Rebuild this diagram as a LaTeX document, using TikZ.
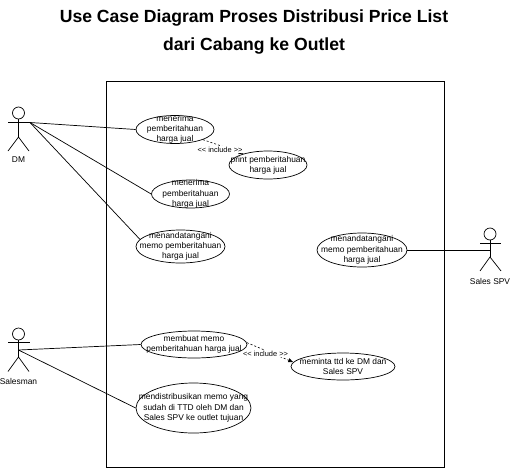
\documentclass[tikz,border=0pt]{standalone}
\usepackage{fontspec}
\setmainfont{Liberation Sans}
\usetikzlibrary{shapes.geometric,arrows.meta}

\tikzset{
	usecase/.style={draw,ellipse,inner sep=0pt,line width=0.7pt},
	uctext/.style={align=center,inner sep=0pt,font=\fontsize{8.4}{10.3}\selectfont},
	actorline/.style={line width=0.7pt},
	assoc/.style={line width=0.7pt},
	incl/.style={dashed,line width=0.6pt,dash pattern=on 2pt off 2pt,-{Latex[length=5pt,width=4.5pt]}},
	incltext/.style={fill=white,inner sep=0.5pt,font=\fontsize{7.4}{9}\selectfont},
	actortext/.style={inner sep=0pt,font=\fontsize{8.4}{10}\selectfont},
	titletext/.style={align=center,inner sep=0pt,font=\fontsize{17.6}{28}\selectfont\bfseries}
}

\begin{document}
\begin{tikzpicture}[x=1pt,y=-1pt]

	\useasboundingbox (0,0) rectangle (524,474);

	% Judul
	\node[titletext] (judul) at (254,31.5) {Use Case Diagram Proses Distribusi Price List\\dari Cabang ke Outlet};

	% Batas sistem
	\draw[line width=0.9pt] (106,81) rectangle (444,467);

	% Aktor DM
	\node[draw,circle,minimum size=12pt,inner sep=0pt,actorline] (dmhead) at (18.5,113) {};
	\coordinate (dmhand) at (30,122.5);
	\coordinate (dmhip) at (18.5,137);
	\draw[actorline] (dmhead) -- (dmhip);
	\draw[actorline] (8,122.5) -- (dmhand);
	\draw[actorline] (8,151) -- (dmhip) -- (29,151);
	\node[actortext] (dm) at (18.5,160) {DM};

	% Aktor Salesman
	\node[draw,circle,minimum size=12pt,inner sep=0pt,actorline] (slshead) at (18.5,334) {};
	\coordinate (slsbody) at (18.5,350);
	\coordinate (slship) at (18.5,357);
	\draw[actorline] (slshead) -- (slship);
	\draw[actorline] (8,342.5) -- (30,342.5);
	\draw[actorline] (8,371.5) -- (slship) -- (29,371.5);
	\node[actortext] (salesman) at (18.5,381) {Salesman};

	% Aktor Sales SPV
	\node[draw,circle,minimum size=12pt,inner sep=0pt,actorline] (spvhead) at (490,234) {};
	\coordinate (spvbody) at (490,250);
	\coordinate (spvhip) at (490,257);
	\draw[actorline] (spvhead) -- (spvhip);
	\draw[actorline] (480,243) -- (501,243);
	\draw[actorline] (480,271) -- (spvhip) -- (501,271);
	\node[actortext] (spv) at (490,281) {Sales SPV};

	% Use case
	\node[usecase,minimum width=78pt,minimum height=28pt,label={[uctext]center:menerima\\pemberitahuan\\harga jual}] (terima) at (175,129.5) {};
	\node[usecase,minimum width=78pt,minimum height=28pt,label={[uctext]center:print pemberitahuan\\harga jual}] (print) at (268,165) {};
	\node[usecase,minimum width=78pt,minimum height=28pt,label={[uctext]center:menerima\\pemberitahuan\\harga jual}] (terimadua) at (190.5,194) {};
	\node[usecase,minimum width=89pt,minimum height=33pt,label={[uctext]center:menandatangani\\memo pemberitahuan\\harga jual}] (tanda) at (180.5,246.5) {};
	\node[usecase,minimum width=90pt,minimum height=34pt,label={[uctext]center:menandatangani\\memo pemberitahuan\\harga jual}] (tandaspv) at (362,250) {};
	\node[usecase,minimum width=106pt,minimum height=27pt,label={[uctext]center:membuat memo\\pemberitahuan harga jual}] (memo) at (194,344.5) {};
	\node[usecase,minimum width=104pt,minimum height=27pt,label={[uctext]center:meminta ttd ke DM dan\\Sales SPV}] (minta) at (343,366.5) {};
	\node[usecase,minimum width=115pt,minimum height=50pt,label={[uctext]center:mendistribusikan memo yang\\sudah di TTD oleh DM dan\\Sales SPV ke outlet tujuan}] (distribusi) at (193.5,408) {};

	% Asosiasi
	\draw[assoc] (dmhand) -- (terima.west);
	\draw[assoc] (dmhand) -- (terimadua.west);
	\draw[assoc] (dmhand) -- (tanda.170);
	\draw[assoc] (slsbody) -- (memo.west);
	\draw[assoc] (slsbody) -- (distribusi.west);
	\draw[assoc] (tandaspv.east) -- (spvbody);

	% Include
	\draw[incl] (terima.-20) -- (print.155);
	\draw[incl] (memo.2) -- (minta.175);
	\node[incltext] (inclsatu) at (220,149.5) {<{}< include >{}>};
	\node[incltext] (incldua) at (265.5,353.5) {<{}< include >{}>};

\end{tikzpicture}
\end{document}
